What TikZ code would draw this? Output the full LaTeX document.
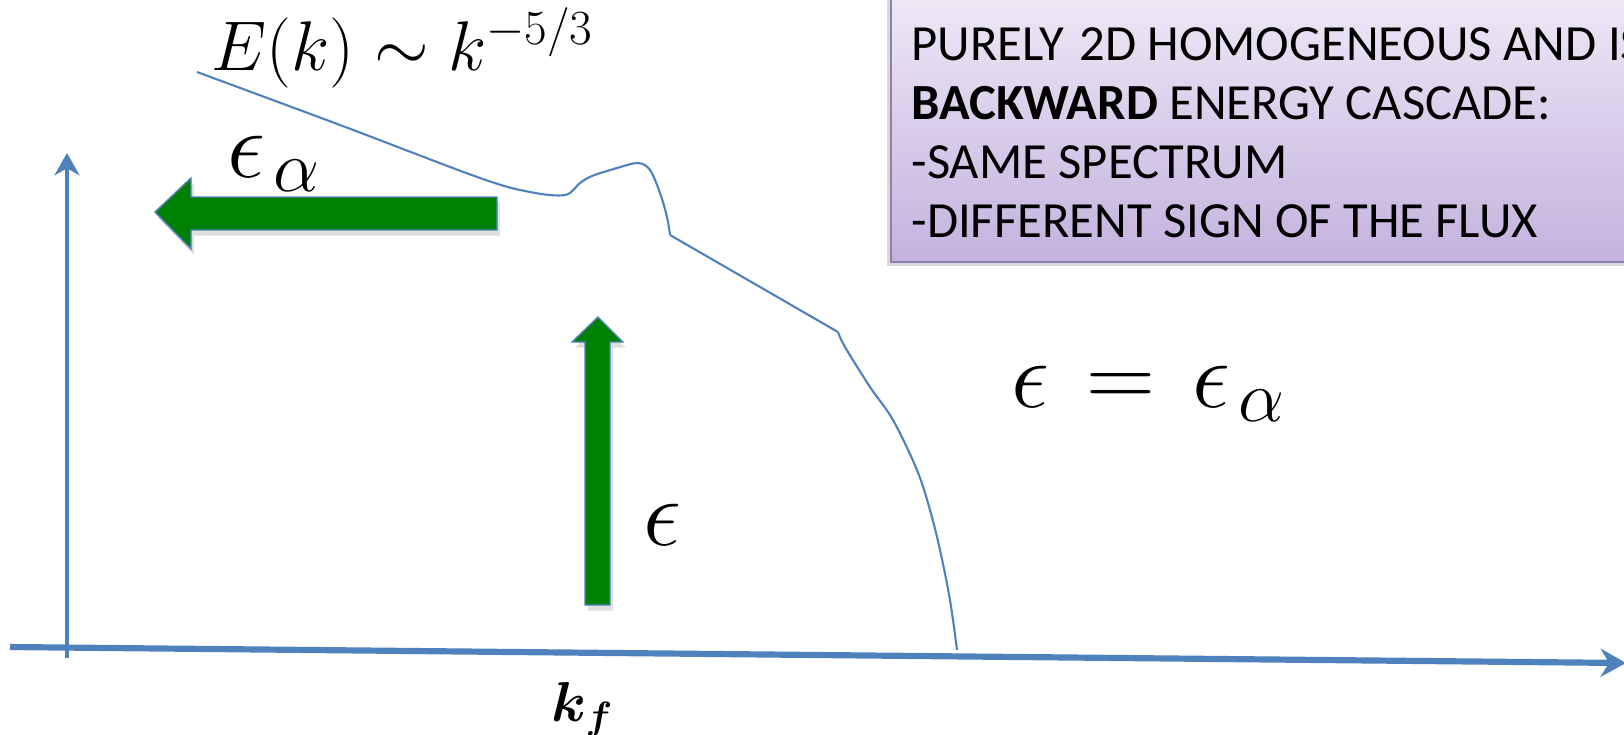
\RequirePackage{fix-cm}
\documentclass[tikz,border=0pt]{standalone}
\usepackage{amsmath,amssymb}
\usepackage{fontspec}
\newfontfamily\notefont{Carlito}
\usepackage{tikz}
\usetikzlibrary{arrows.meta,shadows}
\definecolor{axs}{HTML}{4F81BD}
\definecolor{flx}{HTML}{008000}
\definecolor{boxtop}{HTML}{F0EBF7}
\definecolor{boxbot}{HTML}{C4B2DE}
\definecolor{boxrim}{HTML}{8E80AA}
\newcommand{\epsal}{\epsilon_{\kern3pt\mbox{\fontsize{26}{30}\selectfont$\alpha$}}}

\begin{document}
\begin{tikzpicture}[x=0.0125cm,y=-0.0125cm,
  spec/.style={axs,line width=0.75pt,line join=round},
  flux/.style={fill=flx,draw=axs,line width=0.5pt,drop shadow={opacity=0.25,shadow xshift=1pt,shadow yshift=-2pt}},
  big/.style={inner sep=0pt,font=\fontsize{34}{40}\selectfont}]
\useasboundingbox (0,0) rectangle (1624,734);
\clip (0,0) rectangle (1624,734);
% NOTE BOX
\draw[boxrim,line width=0.8pt,top color=boxtop,bottom color=boxbot,
  drop shadow={opacity=0.3,shadow xshift=-1.5pt,shadow yshift=-1.5pt}] (891,-20) rectangle (1660,262);
\node[anchor=north west,inner sep=0pt,align=left,font=\notefont\fontsize{18}{21}\selectfont] (note) at (911,27)
  {PURELY\hspace{0.3em}2D HOMOGENEOUS AND IS\\
   \textbf{BACKWARD} ENERGY CASCADE:\\
   -SAME SPECTRUM\\
   -DIFFERENT SIGN OF THE FLUX};
% AXES
\draw[axs,line width=2.2pt,-{Stealth[length=9pt,width=10pt]}] (10,647) -- (1626,663);
\draw[axs,line width=1.1pt,-{Stealth[length=8pt,width=9pt]}] (67,658) -- (67,153);
% SPECTRUM
\draw[spec] plot[smooth,tension=0.55] coordinates {(197,72) (340,125) (480,178) (530,192) (565,195)
  (580,183) (592,176) (617,168) (638,163) (650,170) (660,193) (667,217) (670,235)};
\draw[spec] (670,235) -- (838,332);
\draw[spec] plot[smooth,tension=0.55] coordinates {(838,332) (845,347) (870,387) (893,420)
  (917,470) (930,510) (940,550) (950,600) (957,650)};
% FLUX ARROWS
\filldraw[flux] (155,212) -- (191,178) -- (191,197) -- (497,197) -- (497,230) -- (191,230) -- (191,249) -- cycle;
\filldraw[flux] (598,317) -- (623,342) -- (610,342) -- (610,605) -- (585,605) -- (585,342) -- (572,342) -- cycle;
% LABELS
\node[anchor=base west,inner sep=0pt,font=\fontsize{25}{30}\selectfont] (law) at (211,70) {$E(k)\sim k^{-5/3}$};
\node[big,anchor=base west] (epsa) at (227,177) {$\epsal$};
\node[big,anchor=base west] (eps) at (643,545) {$\epsilon$};
\node[big,anchor=base west] (eq) at (1011,407) {$\epsilon\mkern2mu=\mkern2mu\epsal$};
\node[anchor=base west,inner sep=0pt,font=\fontsize{20}{24}\selectfont] (kf) at (551,721) {$\boldsymbol{k_f}$};
\end{tikzpicture}
\end{document}
